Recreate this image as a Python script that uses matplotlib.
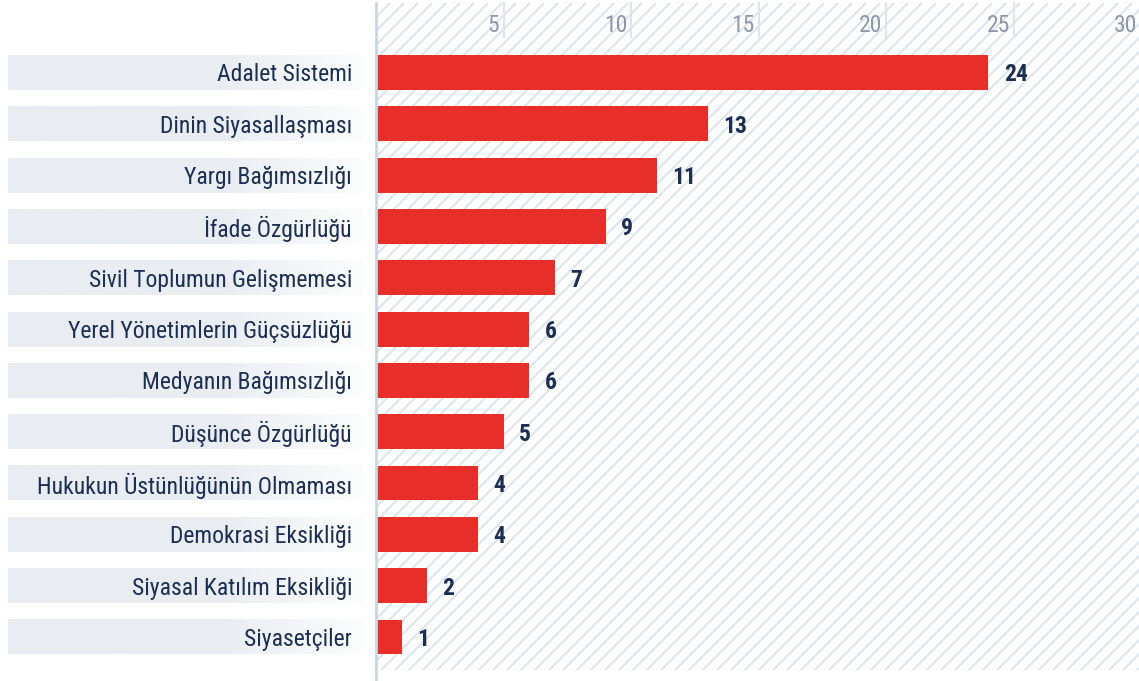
import numpy as np
import matplotlib
matplotlib.use("Agg")
import matplotlib.pyplot as plt
from matplotlib import font_manager
from matplotlib.lines import Line2D
from matplotlib.transforms import blended_transform_factory

# veri
labels = ["Adalet Sistemi", "Dinin Siyasallaşması", "Yargı Bağımsızlığı", "İfade Özgürlüğü",
          "Sivil Toplumun Gelişmemesi", "Yerel Yönetimlerin Güçsüzlüğü", "Medyanın Bağımsızlığı",
          "Düşünce Özgürlüğü", "Hukukun Üstünlüğünün Olmaması", "Demokrasi Eksikliği",
          "Siyasal Katılım Eksikliği", "Siyasetçiler"]
values = [24, 13, 11, 9, 7, 6, 6, 5, 4, 4, 2, 1]
xticks = [5, 10, 15, 20, 25, 30]

RED = "#e82e29"; NAVY = "#1c2e54"; GRID = "#dce4ee"; HATCH = "#d3deeb"; TICK = "#8c97aa"

names = {f.name for f in font_manager.fontManager.ttflist}
FONT = next((f for f in ["Roboto Condensed", "Liberation Sans Narrow", "Roboto"] if f in names), "DejaVu Sans")
plt.rcParams["font.family"] = [FONT, "DejaVu Sans"]

W, H = 1139, 681
fig = plt.figure(figsize=(W / 100, H / 100), dpi=100)
L, R, T, B = 376, 1139, 3, 670
ax = fig.add_axes([L / W, 1 - B / H, (R - L) / W, (B - T) / H])
n = len(values)
step = 51.36
ax.set_xlim(0, 29.9)
ax.set_ylim(n - 1 + (B - T - 634) / step, -69.5 / step)
ax.axis("off")

# çapraz tarama (45°, ~14px aralık)
bw, bh = R - L, B - T
for c in np.arange(-bh, bw, 14):
    x0, x1 = c, c + bh
    ax.add_line(Line2D([x0 / bw, x1 / bw], [0, 1], transform=ax.transAxes,
                       color=HATCH, lw=1.1, zorder=0, clip_on=True))

# üstteki tik çizgileri ve etiketleri
tr = blended_transform_factory(ax.transData, ax.transAxes)
for t in xticks:
    ax.plot([t, t], [1, 1 - 34 / bh], transform=tr, color=GRID, lw=1.5, zorder=1, clip_on=False)
    ax.annotate(str(t), (t, 1 - 20 / bh), xycoords=tr, xytext=(-3, 0), textcoords="offset points",
                ha="right", va="center_baseline", fontsize=17, color=TICK)

y = np.arange(n)
ax.barh(y, values, height=0.68, color=RED, zorder=2)
for yi, v in zip(y, values):
    ax.annotate(str(v), (v, yi), xytext=(11, 0), textcoords="offset points",
                ha="left", va="center_baseline", fontsize=17, fontweight="bold", color=NAVY)

# sol eksen çizgisi
fig.add_artist(Line2D([L / W, L / W], [0, 1 - T / H], color="#cbd6e3", lw=2))

# kategori etiketleri, gri geçişli kutular
lx0, lx1 = 8, 362
lab = fig.add_axes([lx0 / W, 1 - B / H, (lx1 - lx0) / W, (B - T) / H], sharey=ax)
lab.set_xlim(0, 1)
lab.axis("off")
grad = np.ones((1, 256, 3))
base = np.array([233, 237, 242]) / 255
f = np.clip((np.linspace(0, 1, 256) - 0.6) / 0.4, 0, 1)[:, None]
grad[0] = base * (1 - f * 0.85) + f * 0.85
for yi, name in zip(y, labels):
    lab.imshow(grad, extent=(0, 1, yi + 0.34, yi - 0.34), aspect="auto", zorder=0)
    lab.text((352 - lx0) / (lx1 - lx0), yi, name, ha="right", va="center_baseline",
             fontsize=17, color=NAVY, zorder=1)
lab.set_ylim(ax.get_ylim())

fig.savefig("out.png", dpi=100)
